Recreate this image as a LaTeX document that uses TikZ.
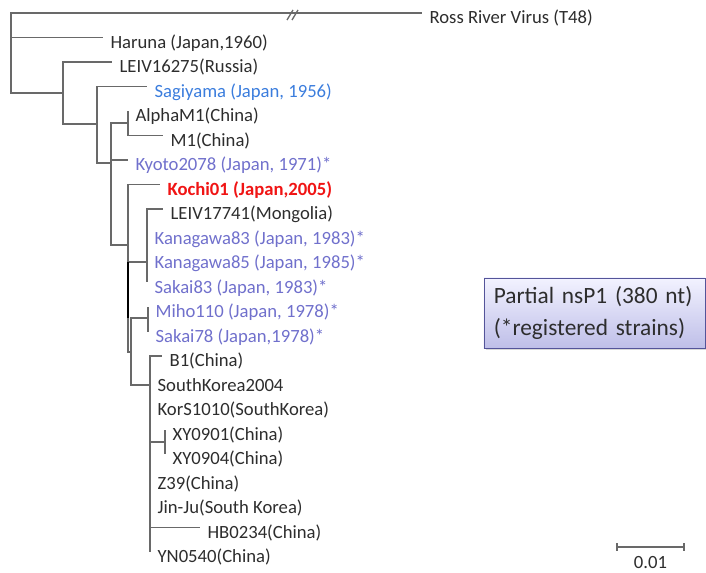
\documentclass[tikz,border=0pt]{standalone}
\usepackage{fontspec}
\setmainfont{Carlito}
\usepackage{tikz}
\usetikzlibrary{shadows,calc}
\definecolor{treegray}{RGB}{105,105,105}
\definecolor{labelblack}{RGB}{45,45,45}
\definecolor{sagiblue}{RGB}{59,125,221}
\definecolor{regblue}{RGB}{112,112,204}
\definecolor{kochired}{RGB}{240,20,20}
\newcommand{\leaffont}{\fontsize{14}{16}\selectfont}
\tikzstyle{branch} = [draw=treegray, line width=1pt]
\tikzstyle{leaf} = [anchor=base west, inner sep=0pt, xshift=5.5pt, yshift=-8pt, font=\leaffont, text=labelblack]
\tikzstyle{regleaf} = [leaf, text=regblue]
\tikzstyle{infobox} = [draw=regblue!75!black, thin, rectangle, top color=blue!5, bottom color=regblue!45, minimum width=165.75pt, minimum height=52.5pt, text width=151pt, inner xsep=7.4pt, align=left, font=\fontsize{17.5}{24}\selectfont, text=labelblack, drop shadow={opacity=0.3, shadow xshift=1.5pt, shadow yshift=-1.5pt}]

\begin{document}
\begin{tikzpicture}[x=0.75pt, y=-0.75pt]
\useasboundingbox (0,0) rectangle (706,573);

% internal nodes
\coordinate (nR) at (11,50);
\coordinate (nA) at (63,93);
\coordinate (nB) at (97,124);
\coordinate (nC) at (111,163);
\coordinate (nD) at (128,123);
\coordinate (nE) at (128,245);
\coordinate (nF) at (147,262);
\coordinate (nI) at (131,352);
\coordinate (nG) at (148,318);
\coordinate (nJ) at (150,385);
\coordinate (nK) at (165,442);

% tips
\coordinate (Ross) at (422,13);
\coordinate (Haruna) at (103,37.5);
\coordinate (LEIVa) at (112,62);
\coordinate (Sagiyama) at (147,86.5);
\coordinate (AlphaM) at (128,111);
\coordinate (Mone) at (163,135.5);
\coordinate (Kyoto) at (128,160);
\coordinate (Kochi) at (160,184.5);
\coordinate (LEIVb) at (163,209);
\coordinate (KanA) at (147,233.5);
\coordinate (KanB) at (147,258);
\coordinate (SakaiA) at (147,282.5);
\coordinate (Miho) at (148,307);
\coordinate (SakaiB) at (148,331.5);
\coordinate (Bone) at (162,356);
\coordinate (SKorea) at (150,380.5);
\coordinate (KorS) at (150,405);
\coordinate (XYa) at (165,429.5);
\coordinate (XYb) at (165,454);
\coordinate (Zthree) at (150,478.5);
\coordinate (JinJu) at (150,503);
\coordinate (HB) at (200,527.5);
\coordinate (YN) at (150,552);

% branches
\draw[branch] (nR) |- (Ross) (nR) |- (Haruna) (nR) |- (nA);
\draw[branch] (nA) |- (LEIVa) (nA) |- (nB);
\draw[branch] (nB) |- (Sagiyama) (nB) |- (nC);
\draw[branch] (nC) |- (nD) (nC) |- (Kyoto) (nC) |- (nE);
\draw[branch] (nD) |- (AlphaM) (nD) |- (Mone);
\draw[branch] (nE) |- (Kochi) (nE) |- (nF) (nE) |- (nI);
\draw[branch, draw=black] (nE |- nF) -- (nE |- nG);
\draw[branch] (nF) |- (LEIVb) (nF) |- (KanA) (nF) |- (KanB) (nF) |- (SakaiA);
\draw[branch] (nI) |- (nG) (nI) |- (nJ);
\draw[branch] (nG) |- (Miho) (nG) |- (SakaiB);
\draw[branch] (nJ) |- (Bone) (nJ) |- (SKorea) (nJ) |- (KorS) (nJ) |- (nK)
  (nJ) |- (Zthree) (nJ) |- (JinJu) (nJ) |- (HB) (nJ) |- (YN);
\draw[branch] (nK) |- (XYa) (nK) |- (XYb);

% break on the long branch
\coordinate (brkA) at (287,20);
\coordinate (brkB) at (292,20);
\draw[branch] (brkA) -- ++(6,-10) (brkB) -- ++(6,-10);

% labels
\node[leaf] (tRoss) at (Ross) {Ross River Virus (T48)};
\node[leaf] (tHaruna) at (Haruna) {Haruna (Japan,1960)};
\node[leaf] (tLEIVa) at (LEIVa) {LEIV16275(Russia)};
\node[leaf, text=sagiblue] (tSagiyama) at (Sagiyama) {Sagiyama (Japan, 1956)};
\node[leaf] (tAlphaM) at (AlphaM) {AlphaM1(China)};
\node[leaf] (tMone) at (Mone) {M1(China)};
\node[regleaf] (tKyoto) at (Kyoto) {Kyoto2078 (Japan, 1971)*};
\node[leaf, text=kochired, font=\leaffont\bfseries] (tKochi) at (Kochi) {Kochi01 (Japan,2005)};
\node[leaf] (tLEIVb) at (LEIVb) {LEIV17741(Mongolia)};
\node[regleaf] (tKanA) at (KanA) {Kanagawa83 (Japan, 1983)*};
\node[regleaf] (tKanB) at (KanB) {Kanagawa85 (Japan, 1985)*};
\node[regleaf] (tSakaiA) at (SakaiA) {Sakai83 (Japan, 1983)*};
\node[regleaf] (tMiho) at (Miho) {Miho110 (Japan, 1978)*};
\node[regleaf] (tSakaiB) at (SakaiB) {Sakai78 (Japan,1978)*};
\node[leaf] (tBone) at (Bone) {B1(China)};
\node[leaf] (tSKorea) at (SKorea) {SouthKorea2004};
\node[leaf] (tKorS) at (KorS) {KorS1010(SouthKorea)};
\node[leaf] (tXYa) at (XYa) {XY0901(China)};
\node[leaf] (tXYb) at (XYb) {XY0904(China)};
\node[leaf] (tZthree) at (Zthree) {Z39(China)};
\node[leaf] (tJinJu) at (JinJu) {Jin-Ju(South Korea)};
\node[leaf] (tHB) at (HB) {HB0234(China)};
\node[leaf] (tYN) at (YN) {YN0540(China)};

% legend box
\node[infobox] (note) at (594.5,313) {Partial nsP1 (380 nt)\\(*registered strains)};

% scale bar
\coordinate (sL) at (617,547);
\coordinate (sR) at (684,547);
\draw[branch] (sL) -- (sR);
\draw[branch] (sL) ++(0,-4) -- ++(0,8) (sR) ++(0,-4) -- ++(0,8);
\node[font=\leaffont, text=labelblack, anchor=base] (scale) at ($(sL)!0.5!(sR)+(0,21)$) {0.01};
\end{tikzpicture}
\end{document}
